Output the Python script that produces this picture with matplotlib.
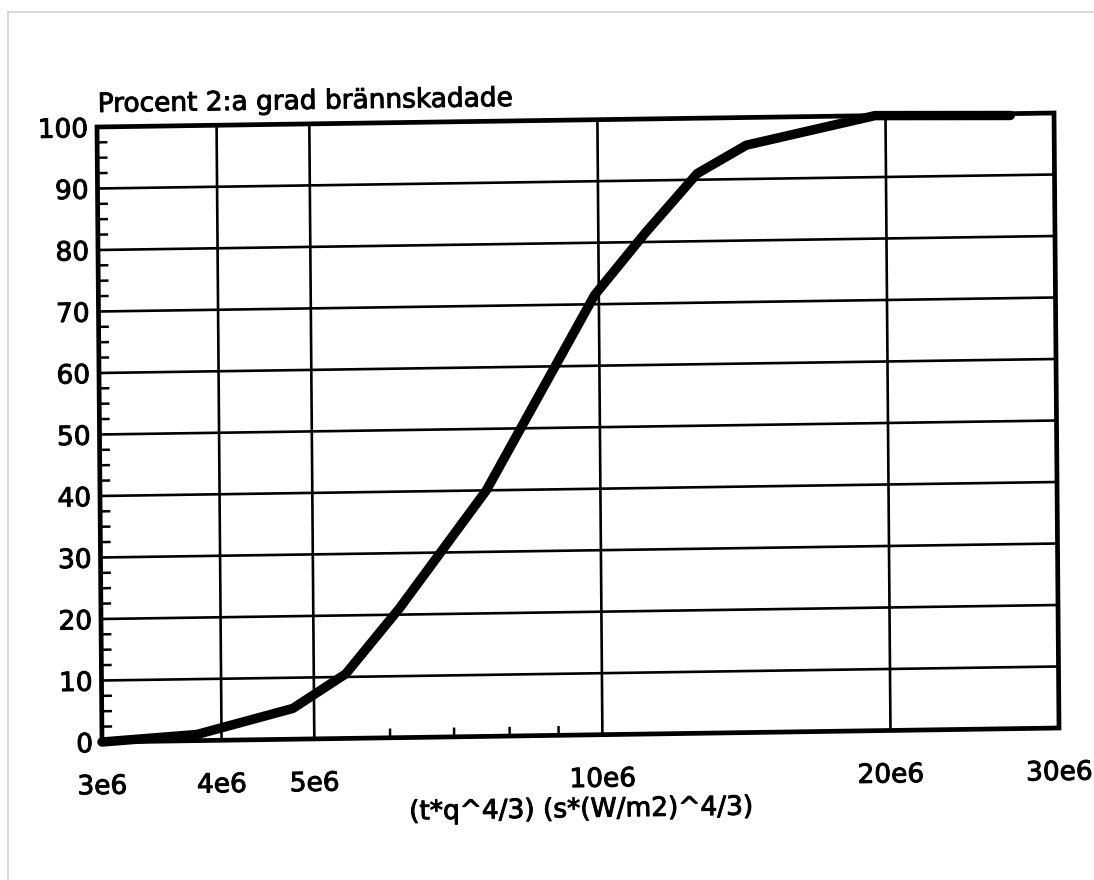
import numpy as np
import matplotlib
matplotlib.use('Agg')
import matplotlib.pyplot as plt
import matplotlib.patheffects as pe
from matplotlib.transforms import Affine2D, offset_copy
from matplotlib.lines import Line2D

# dose (t*q^4/3) against percent with 2nd degree burns
dose = [3.0e6, 3.77e6, 4.75e6, 5.4e6, 6.15e6, 7.6e6, 9.9e6, 11.2e6, 12.7e6, 14.3e6, 19.5e6, 27e6]
percent = [0, 1, 5, 10.5, 21, 40, 71.5, 81.5, 91, 95.5, 100, 99.7]

x_major = [3e6, 4e6, 5e6, 10e6, 20e6, 30e6]
x_labels = ['3e6', '4e6', '5e6', '10e6', '20e6', '30e6']
x_minor = [6e6, 7e6, 8e6, 9e6]
y_major = [0, 10, 20, 30, 40, 50, 60, 70, 80, 90, 100]
y_minor = [v + d for v in y_major[:-1] for d in (2.5, 5, 7.5)]

title = 'Procent 2:a grad brännskadade'
xlabel = '(t*q^4/3) (s*(W/m2)^4/3)'

W, H = 1094, 880
fig = plt.figure(figsize=(W / 100, H / 100), dpi=100)

# plot box corners in pixels (y up); the sheet sits a little crooked
bl = (102, H - 742)
br = (1059, H - 728)
tl = (97, H - 127)
w = br[0] - bl[0]
h = tl[1] - bl[1]
ax = fig.add_axes([bl[0] / W, bl[1] / H, w / W, h / H])
ax.set_xscale('log')
ax.axis('off')

shear = np.array([[1, (tl[0] - bl[0]) / h, 0],
                  [(br[1] - bl[1]) / w, 1, 0],
                  [0, 0, 1]])
skew = Affine2D().translate(-bl[0], -bl[1]) + Affine2D(shear) + Affine2D().translate(*bl)
tilt = np.degrees(np.arctan2(br[1] - bl[1], w))

xt = ax.get_xaxis_transform() + skew
yt = ax.get_yaxis_transform() + skew
ink = 'black'

# grid
for x in x_major[1:-1]:
    ax.plot([x, x], [0, 1], transform=xt, color=ink, lw=1.9, clip_on=False)
for y in y_major[1:-1]:
    ax.plot([0, 1], [y, y], transform=yt, color=ink, lw=1.9, clip_on=False)

# small ticks pointing inwards
for y in y_minor:
    ax.plot([0, 9 / w], [y, y], transform=yt, color=ink, lw=1.8, clip_on=False)
for x in x_minor:
    ax.plot([x, x], [0, 8 / h], transform=xt, color=ink, lw=1.8, clip_on=False)

# frame
ax.plot([0, 1, 1, 0, 0], [0, 0, 1, 1, 0], transform=ax.transAxes + skew,
        color=ink, lw=3.4, solid_joinstyle='miter', clip_on=False)

# curve
ax.plot(dose, percent, transform=ax.transData + skew, color=ink, lw=6.8,
        solid_capstyle='round', solid_joinstyle='round', clip_on=False, zorder=5)

ax.set_xlim(3e6, 30e6)
ax.set_ylim(0, 100)

fs = 19
heavy = [pe.withStroke(linewidth=0.7, foreground=ink)]
txt = dict(fontsize=fs, rotation=tilt, rotation_mode='anchor', color=ink, path_effects=heavy)
for y in y_major:
    ax.text(0, y, str(y), transform=offset_copy(ax.get_yaxis_transform(), fig=fig, x=-9, y=-3, units='dots') + skew,
            ha='right', va='center', **txt)
for x, lab in zip(x_major, x_labels):
    ax.text(x, 0, lab, transform=offset_copy(ax.get_xaxis_transform(), fig=fig, x=0, y=-52, units='dots') + skew,
            ha='center', va='baseline', **txt)

ax.text(0.5, 0, xlabel, transform=offset_copy(ax.transAxes, fig=fig, x=0, y=-82, units='dots') + skew,
        ha='center', va='baseline', **txt)
ax.text(0, 1, title, transform=offset_copy(ax.transAxes, fig=fig, x=1, y=15, units='dots') + skew,
        ha='left', va='baseline', **txt)

# page edge
edge = '#d2d2d2'
fig.add_artist(Line2D([8 / W, 8 / W], [0, 1 - 12 / H], transform=fig.transFigure, color=edge, lw=1.2))
fig.add_artist(Line2D([8 / W, 1], [1 - 12 / H, 1 - 12 / H], transform=fig.transFigure, color=edge, lw=1.2))

fig.savefig('out.png', dpi=100)
